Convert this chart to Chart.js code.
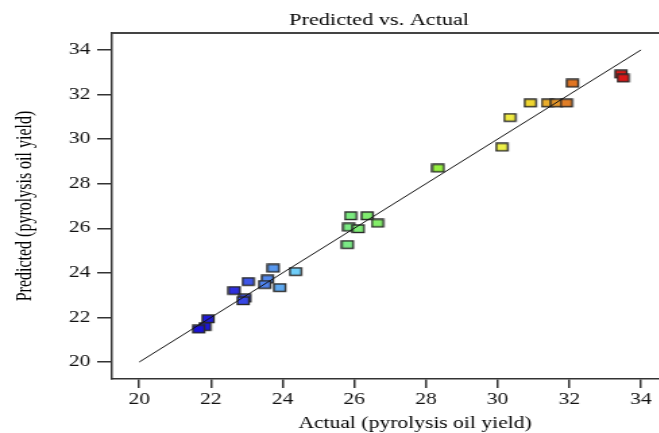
<!DOCTYPE html>
<html>
<head>
<meta charset="utf-8">
<script src="https://cdn.jsdelivr.net/npm/chart.js"></script>
<style>
  html, body { margin: 0; padding: 0; background: #fff; overflow: hidden; }
  /* the reference figure is stretched sideways, so draw narrow and widen it */
  #wrap { width: 540px; height: 433px; transform: scaleX(1.3492); transform-origin: 0 0; }
</style>
</head>
<body>
<div id="wrap"><canvas id="myChart" width="540" height="433"></canvas></div>
<script>
// runs (actual vs predicted pyrolysis oil yield)
const actual = [
  25.91, 26.37, 26.66, 25.86, 26.12, 25.82,
  23.75, 24.37, 23.59, 23.51, 23.05, 23.93, 22.66, 22.96, 22.91,
  21.93, 21.84, 21.67,
  28.35, 30.13, 30.35, 30.92, 31.40, 31.65, 31.93, 32.10, 33.45, 33.51
];
const predicted = [
  26.55, 26.55, 26.22, 26.04, 25.97, 25.26,
  24.20, 24.05, 23.71, 23.47, 23.60, 23.33, 23.20, 22.86, 22.74,
  21.93, 21.58, 21.47,
  28.69, 29.63, 30.96, 31.61, 31.61, 31.61, 31.61, 32.50, 32.91, 32.73
];
const fitLine = [20, 34];
const xTickVals = [20, 22, 24, 26, 28, 30, 32, 34];
const yTickVals = [20, 22, 24, 26, 28, 30, 32, 34];

// colour ramp on the actual value
const ramp = [
  [21.6, [24, 16, 216]],
  [22.7, [48, 48, 224]],
  [23.1, [64, 92, 232]],
  [23.9, [94, 166, 240]],
  [24.4, [112, 208, 248]],
  [26.0, [124, 236, 120]],
  [28.4, [150, 240, 64]],
  [30.2, [240, 240, 72]],
  [30.9, [240, 216, 48]],
  [31.9, [224, 128, 40]],
  [32.2, [224, 112, 32]],
  [33.5, [216, 24, 24]]
];
function rampColor(v) {
  if (v <= ramp[0][0]) return 'rgb(' + ramp[0][1].join(',') + ')';
  for (let i = 1; i < ramp.length; i++) {
    if (v <= ramp[i][0]) {
      const t = (v - ramp[i - 1][0]) / (ramp[i][0] - ramp[i - 1][0]);
      const c = ramp[i - 1][1].map((a, k) => Math.round(a + (ramp[i][1][k] - a) * t));
      return 'rgb(' + c.join(',') + ')';
    }
  }
  return 'rgb(' + ramp[ramp.length - 1][1].join(',') + ')';
}

// small filled squares with a dark edge
function marker(fill) {
  const c = document.createElement('canvas');
  c.width = 11; c.height = 10;
  const g = c.getContext('2d');
  g.fillStyle = fill;
  g.fillRect(1, 1, 8.5, 7.5);
  g.strokeStyle = '#2a2a2a';
  g.lineWidth = 1.4;
  g.strokeRect(1, 1, 8.5, 7.5);
  return c;
}

const serif = '"Liberation Serif", "Times New Roman", serif';

const frame = {
  id: 'frame',
  afterDraw(chart) {
    const { ctx, chartArea: a } = chart;
    ctx.save();
    ctx.strokeStyle = '#444';
    ctx.lineWidth = 2;
    ctx.beginPath();
    ctx.moveTo(a.left, a.top);
    ctx.lineTo(a.right, a.top);
    ctx.lineTo(a.right, a.bottom);
    ctx.stroke();
    ctx.fillStyle = '#000';
    ctx.font = '16.5px ' + serif;
    ctx.textAlign = 'center';
    ctx.textBaseline = 'middle';
    ctx.fillText('Predicted vs. Actual', 281, 21);
    ctx.restore();
  }
};

const points = actual.map((x, i) => ({ x: x, y: predicted[i] }));

new Chart(document.getElementById('myChart'), {
  type: 'scatter',
  data: {
    datasets: [
      {
        type: 'line',
        data: fitLine.map(v => ({ x: v, y: v })),
        borderColor: '#111',
        borderWidth: 1,
        pointRadius: 0,
        order: 0
      },
      {
        data: points,
        pointStyle: actual.map(v => marker(rampColor(v))),
        pointRadius: 5,
        order: 1
      }
    ]
  },
  options: {
    responsive: false,
    animation: false,
    layout: { padding: { top: 33, right: 7.8, left: 0, bottom: 0 } },
    plugins: { legend: { display: false }, tooltip: { enabled: false } },
    scales: {
      x: {
        type: 'linear',
        min: 19.24,
        max: 36.15,
        afterBuildTicks: s => { s.ticks = xTickVals.map(v => ({ value: v })); },
        afterFit: s => { s.height = 54; },
        grid: { drawOnChartArea: false, tickLength: 9, color: '#333', lineWidth: 1.5 },
        border: { color: '#333', width: 1.5 },
        ticks: { color: '#111', padding: 2, font: { family: serif, size: 16 } },
        title: { display: true, text: 'Actual (pyrolysis oil yield)', color: '#000',
                 padding: 1, font: { family: serif, size: 16, lineHeight: 1 } }
      },
      y: {
        type: 'linear',
        min: 19.24,
        max: 34.76,
        afterBuildTicks: s => { s.ticks = yTickVals.map(v => ({ value: v })); },
        afterFit: s => { s.width = 83; },
        grid: { drawOnChartArea: false, tickLength: 11, color: '#333', lineWidth: 1.5 },
        border: { color: '#333', width: 1.5 },
        ticks: { color: '#111', padding: 5, font: { family: serif, size: 16 } },
        title: { display: true, text: 'Predicted (pyrolysis oil yield)', color: '#000',
                 padding: { top: 9 }, font: { family: serif, size: 16, lineHeight: 1.2 } }
      }
    }
  },
  plugins: [frame]
});
</script>
</body>
</html>
